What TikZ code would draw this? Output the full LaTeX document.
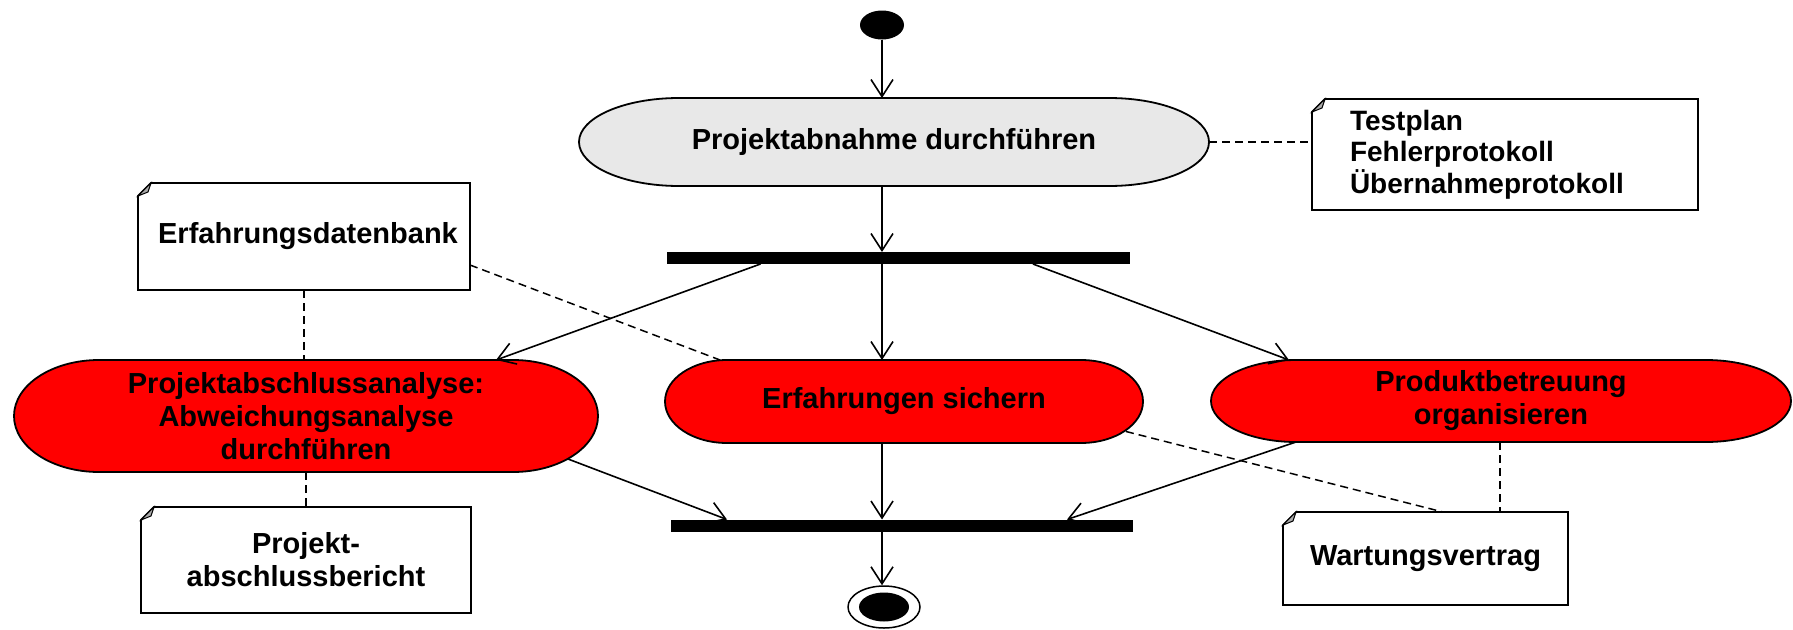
\documentclass[tikz,border=0pt]{standalone}
\usepackage{fontspec}
\setmainfont{Liberation Sans}
\usetikzlibrary{arrows.meta,shapes.geometric,backgrounds,calc}
\definecolor{actred}{RGB}{255,0,0}
\definecolor{actgray}{RGB}{232,232,232}
\definecolor{foldgray}{RGB}{170,170,170}
\tikzset{
  actbox/.style={inner sep=0pt, outer sep=0pt, align=center,
    font=\fontsize{29}{33}\selectfont\bfseries},
  notebox/.style={inner sep=0pt, outer sep=0pt, align=center,
    font=\fontsize{29}{33}\selectfont\bfseries},
  barbox/.style={fill=black, inner sep=0pt, outer sep=0pt},
  flow/.style={line width=1.6pt, -{Straight Barb[length=17pt,width=22pt,line width=1.6pt]}},
  anchorline/.style={line width=1.5pt, dash pattern=on 8pt off 5pt},
  outline/.style={line width=1.8pt, draw=black},
}
\newcommand\stadiumshape[4]{% name, x radius, y radius, fill
  \path[outline, fill=#4] ([xshift=#2]#1.north west) -- ([xshift=-#2]#1.north east)
    arc[start angle=90, end angle=-90, x radius=#2, y radius=#3]
    -- ([xshift=#2]#1.south west)
    arc[start angle=270, end angle=90, x radius=#2, y radius=#3] -- cycle;}
\newcommand\noteshape[1]{%
  \path[line width=1.8pt, draw=black, fill=white] ([xshift=13pt]#1.north west) -- (#1.north east)
    -- (#1.south east) -- (#1.south west) -- ([yshift=-13pt]#1.north west) -- cycle;
  \path[line width=1pt, draw=black, fill=foldgray] ([yshift=-13pt]#1.north west)
    -- ([xshift=13pt]#1.north west) -- ([xshift=10pt,yshift=-9pt]#1.north west) -- cycle;}
\begin{document}
\begin{tikzpicture}[x=1pt,y=-1pt]
\useasboundingbox (0,0) rectangle (1793,629);

% activities
\node[ellipse, fill=black, minimum width=44pt, minimum height=29pt, inner sep=0pt] (start) at (882,25) {};
\node[actbox, minimum width=630pt, minimum height=88pt] (abnahme) at (894,142) {Projektabnahme durchführen};
\node[barbox, minimum width=463pt, minimum height=12pt] (fork) at (898.5,258) {};
\node[actbox, minimum width=584pt, minimum height=112pt] (analyse) at (306,416)
  {Projektabschlussanalyse:\\Abweichungsanalyse\\durchführen};
\node[actbox, minimum width=478pt, minimum height=83pt] (sichern) at (904,401.5) {Erfahrungen sichern};
\node[actbox, minimum width=580pt, minimum height=82pt] (betreuung) at (1501,401) {Produktbetreuung\\organisieren};
\node[barbox, minimum width=462pt, minimum height=12pt] (join) at (902,525.5) {};
\node[ellipse, draw=black, line width=1.5pt, fill=white, minimum width=72pt, minimum height=42pt, inner sep=0pt] (endo) at (884,607) {};
\node[ellipse, fill=black, minimum width=50pt, minimum height=29pt, inner sep=0pt] (endi) at (884,607) {};

% notes
\node[notebox, font=\fontsize{28}{31.5}\selectfont\bfseries, align=left, text width=310pt, inner xsep=38pt, minimum height=111pt] (testplan) at (1505,154.5)
  {Testplan\\Fehlerprotokoll\\Übernahmeprotokoll};
\node[notebox, minimum width=332pt, minimum height=107pt] (db) at (304,236.5) {\hspace*{8pt}Erfahrungsdatenbank};
\node[notebox, minimum width=330pt, minimum height=106pt] (bericht) at (306,560) {Projekt-\\abschlussbericht};
\node[notebox, minimum width=285pt, minimum height=93pt] (wartung) at (1425.5,558.5) {Wartungsvertrag};

\begin{scope}[on background layer]
  \stadiumshape{abnahme}{100pt}{44pt}{actgray}
  \stadiumshape{analyse}{85pt}{56pt}{actred}
  \stadiumshape{sichern}{62pt}{41.5pt}{actred}
  \stadiumshape{betreuung}{85pt}{41pt}{actred}
  \noteshape{testplan}
  \noteshape{db}
  \noteshape{bericht}
  \noteshape{wartung}
\end{scope}

% control flow
\draw[flow] (start.south) -- (start.south |- abnahme.north);
\draw[flow] (abnahme.south -| start) -- (fork.north -| start);
\draw[flow] ([xshift=-138pt]fork.south) -- ([xshift=190pt]analyse.north);
\draw[flow] (fork.south -| start) -- (sichern.north -| start);
\draw[flow] ([xshift=134.5pt]fork.south) -- ([xshift=-212pt]betreuung.north);
\draw[flow] ([xshift=262pt,yshift=-43pt]analyse.center) -- ([xshift=-175pt]join.north);
\draw[flow] (sichern.south -| start) -- (join.north -| start);
\draw[flow] ([xshift=-205pt]betreuung.south) -- ([xshift=165pt]join.north);
\draw[flow] (join.south -| start) -- (endo.north -| start);

% note anchors
\draw[anchorline] (abnahme.east) -- (abnahme.east -| testplan.west);
\draw[anchorline] ([yshift=-28.5pt]db.east) -- ([xshift=-184pt]sichern.north);
\draw[anchorline] (db.south) -- (db.south |- analyse.north);
\draw[anchorline] (analyse.south) -- (analyse.south |- bericht.north);
\draw[anchorline] ([xshift=222pt,yshift=-30pt]sichern.center) -- ([xshift=17.5pt]wartung.north);
\draw[anchorline] ([xshift=-1pt]betreuung.south) -- ([xshift=-1pt]betreuung.south |- wartung.north);
\end{tikzpicture}
\end{document}
